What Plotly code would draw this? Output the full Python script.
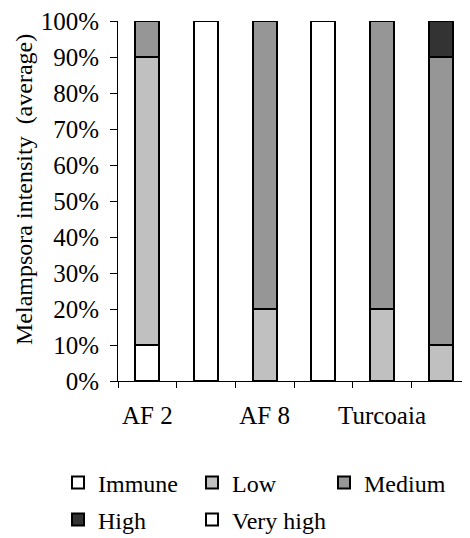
import plotly.graph_objects as go

categories = ["AF 2", "", "AF 8", "", "Turcoaia", ""]
series_names = ["Immune", "Low", "Medium", "High", "Very high"]
immune = [10, 100, 0, 100, 0, 0]
low = [80, 0, 20, 0, 20, 10]
medium = [10, 0, 80, 0, 80, 80]
high = [0, 0, 0, 0, 0, 10]
very_high = [0, 0, 0, 0, 0, 0]
y_ticks = [0, 10, 20, 30, 40, 50, 60, 70, 80, 90, 100]
y_title = "Melampsora intensity  (average)"

values = [immune, low, medium, high, very_high]
colors = ["#FFFFFF", "#C0C0C0", "#969696", "#333333", "#FFFFFF"]

FONT = "Liberation Serif"
FS = 25
x = list(range(len(categories)))

# the page body adds an 8px margin, so the figure is sized to fit the window
W, H = 462, 530
ML, MR, MT, MB = 110, 0, 13, 157
PW, PH = W - ML - MR, H - MT - MB

# legend slot positions (figure pixels: left edge, row center)
legend_ids = ["legend", "legend2", "legend3", "legend4", "legend5"]
legend_pos = [(50, 475), (184, 475), (316, 475), (50, 512), (184, 512)]

fig = go.Figure()
for name, vals, col, lg in zip(series_names, values, colors, legend_ids):
    fig.add_trace(go.Bar(
        x=x, y=[v if v else None for v in vals], name=name, width=0.41,
        marker=dict(color=col, line=dict(color="black", width=2)),
        legend=lg, showlegend=True,
    ))

layout_legends = {}
for lg, (px, py) in zip(legend_ids, legend_pos):
    layout_legends[lg] = dict(
        orientation="h", xref="container", yref="container",
        x=px / W, y=1 - py / H, xanchor="left", yanchor="middle",
        font=dict(family=FONT, size=24), bgcolor="rgba(0,0,0,0)",
        traceorder="normal",
    )

fig.update_layout(
    width=W, height=H,
    barmode="stack",
    plot_bgcolor="white", paper_bgcolor="white",
    margin=dict(l=ML, r=MR, t=MT, b=MB, autoexpand=False),
    font=dict(family=FONT, size=FS, color="black"),
    showlegend=True,
    **layout_legends,
)

# y-axis title placed as a rotated annotation (paper coords from pixel target)
title_px, title_py = 16, 182
fig.add_annotation(
    text=y_title, textangle=-90, xref="paper", yref="paper",
    x=(title_px - ML) / PW, y=(H - MB - title_py) / PH,
    xanchor="center", yanchor="middle",
    showarrow=False, font=dict(family=FONT, size=24, color="black"),
)

fig.update_xaxes(
    range=[-0.5, 5.5], tickmode="array", tickvals=x, ticktext=categories,
    ticks="", showline=True, linecolor="black", linewidth=1,
    showgrid=False, zeroline=False, automargin=False,
    minor=dict(tickmode="linear", tick0=-0.5, dtick=1, ticks="outside",
               ticklen=6, tickcolor="black", tickwidth=1, showgrid=False),
    ticklabelstandoff=12, ticklabeloverflow="allow",
    tickfont=dict(family=FONT, size=FS),
)
fig.update_yaxes(
    range=[0, 100], tickmode="array", tickvals=y_ticks,
    ticktext=[f"{v}%" for v in y_ticks],
    ticks="outside", ticklen=7, tickcolor="black",
    showline=True, linecolor="black", linewidth=1,
    showgrid=False, zeroline=False, automargin=False,
    tickfont=dict(family=FONT, size=FS),
    ticklabelstandoff=6, ticklabeloverflow="allow",
)

fig.write_html("out.html")
